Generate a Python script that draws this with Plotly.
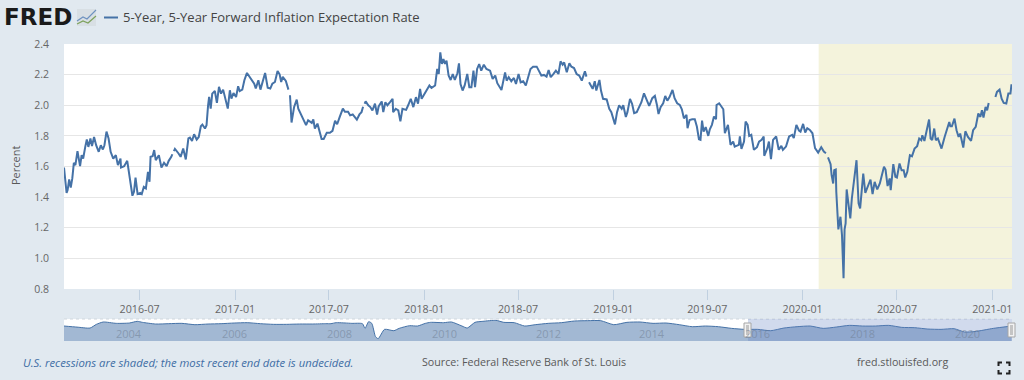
import pandas as pd
import plotly.graph_objects as go

START = pd.Timestamp("2016-02-06")
END = pd.Timestamp("2021-02-08")

days_since_start = [
    0,2,5,7,10,13,16,19,22,26,31,34,37,41,44,47,51,54,58,62,
    67,71,75,78,82,86,90,95,100,104,109,110,116,122,127,132,135,138,142,147,
    150,154,158,162,165,167,171,174,177,183,188,193,198,202,207,209,210,212,214,221,225,230,
    235,240,243,247,251,256,260,264,267,272,275,278,
    280,283,286,291,295,299,303,307,312,316,320,323,327,332,336,339,344,348,353,357,
    362,367,370,375,379,384,388,393,398,402,407,412,416,419,422,428,433,435,436,439,
    444,449,452,456,462,467,471,478,481,484,489,493,497,501,507,513,518,523,527,532,
    538,542,548,
    552,557,565,570,574,577,578,580,582,587,591,595,600,604,607,613,616,620,624,629,634,635,
    640,645,649,653,660,664,669,674,679,683,687,690,698,701,705,709,716,720,723,726,
    729,732,735,738,742,746,750,754,759,762,765,769,773,778,782,786,790,793,797,801,
    805,810,815,822,827,832,836,844,851,854,858,863,868,872,877,881,886,891,896,900,
    905,912,916,921,926,931,935,939,944,949,954,958,962,965,970,975,979,984,989,994,
    999,1005,1008,1010,1013,1020,1024,1027,1033,1036,1040,1047,1052,1056,1063,1067,1071,1076,1079,1084,
    1087,1092,1096,1100,1105,1110,
    1114,1119,1124,1129,1135,1140,1144,1147,1151,1156,1160,1164,1168,1174,1178,1183,1188,1192,1196,1201,
    1203,1207,1212,1217,1221,1225,1228,1231,1234,1238,1243,1246,1250,1254,1258,1259,1264,1268,1272,1275,
    1281,1286,1291,1294,1302,1304,1307,1312,1315,1319,1322,1326,1331,1337,1341,1346,1350,1351,1357,1360,
    1364,1368,1374,1379,1384,1387,1393,1399,1405,1408,1413,1418,1421,1426,1430,1434,1439,1444,1449,1455,
    1461,1466,1470,1472,
    1474,1479,1481,1484,1486,1489,1490,1494,1498,1501,1504,1506,1508,1510,1514,1517,1520,1525,1529,1533,
    1536,1542,1546,1553,1556,1560,1564,1569,1574,1582,1585,1589,1593,1595,1600,1604,1607,1612,1616,1620,
    1623,1627,1632,1636,1641,1646,1650,1654,1656,1660,1665,1669,1672,1675,1679,1682,1686,1690,1693,1699,
    1706,1708,1710,1713,1718,1722,1726,1729,1735,1739,1744,1750,1754,1759,1764,1768,1771,1774,1778,1781,
    1784,1787,1790,1793,1797,1800,1805,1809,1813,1818,1822,1826,1828,
]

rate_percent = [
    1.593,1.511,1.428,1.446,1.515,1.463,1.522,1.624,1.609,1.70,1.602,1.674,1.652,1.728,1.776,1.728,1.783,1.733,1.793,1.739,
    1.696,1.739,1.711,1.739,1.828,1.783,1.696,1.652,1.674,1.609,1.652,1.593,1.602,1.637,1.511,1.409,1.435,1.528,1.42,1.428,
    1.42,1.467,1.457,1.565,1.50,1.663,1.667,1.707,1.641,1.674,1.593,1.624,1.602,1.637,1.663,1.68,None,1.70,1.715,1.685,1.663,1.717,
    1.646,1.783,1.789,1.767,1.811,1.776,1.793,1.863,1.874,1.848,1.87,2.0,
    2.054,1.978,2.076,2.093,2.015,2.12,2.076,2.102,2.033,1.978,2.098,2.043,2.08,2.054,2.124,2.093,2.102,2.163,2.211,2.189,
    2.163,2.141,2.109,2.163,2.102,2.163,2.211,2.115,2.109,2.141,2.152,2.224,2.202,2.152,2.185,2.159,2.102,None,2.065,1.887,
    1.989,2.037,1.978,1.95,1.913,1.87,1.902,1.885,1.907,1.848,1.88,1.826,1.78,1.78,1.82,1.82,1.833,1.898,1.876,1.924,
    1.978,1.957,1.957,
    1.934,1.94,1.906,1.94,1.955,1.99,None,2.01,2.025,2.0,1.988,1.966,2.01,1.94,1.992,2.025,1.955,2.02,2.0,2.02,2.042,1.955,
    1.977,1.966,1.895,1.977,1.97,2.0,2.042,1.988,2.053,2.01,2.107,2.042,2.085,2.107,2.129,2.113,2.129,2.237,2.204,2.345,
    2.27,2.302,2.27,2.291,2.194,2.165,2.204,2.165,2.209,2.274,2.139,2.096,2.129,2.204,2.118,2.118,2.226,2.118,2.237,2.269,
    2.226,2.265,2.237,2.226,2.172,2.194,2.144,2.10,2.215,2.161,2.183,2.157,2.178,2.139,2.204,2.15,2.157,2.129,2.183,2.237,
    2.252,2.252,2.226,2.194,2.198,2.187,2.23,2.183,2.204,2.226,2.204,2.287,2.265,2.28,2.215,2.274,2.252,2.243,2.204,2.194,
    2.161,2.222,2.187,None,2.15,2.107,2.157,2.096,2.165,2.096,2.042,2.038,1.977,1.955,1.875,1.955,2.0,1.977,2.0,1.923,
    1.955,2.042,2.01,1.949,1.955,1.991,
    2.02,2.078,2.03,1.996,2.046,2.061,2.002,1.943,1.987,2.013,2.061,2.03,2.052,2.10,2.046,2.013,2.002,1.974,1.915,1.937,
    1.85,1.904,1.909,1.909,1.861,1.778,1.774,1.90,1.828,1.857,1.80,1.843,1.872,1.926,1.909,2.002,2.013,1.996,1.974,1.817,
    1.872,1.741,1.763,1.73,1.741,1.796,1.715,1.763,1.893,1.872,1.80,1.807,1.709,1.726,1.763,1.774,1.796,1.67,1.72,1.763,
    1.648,1.774,1.796,1.709,1.735,1.709,1.73,1.796,1.807,1.785,1.872,1.835,1.828,1.878,1.822,1.85,1.839,1.817,1.72,1.691,
    1.726,1.698,1.687,None,
    1.659,1.615,1.543,1.489,1.576,1.58,1.435,1.189,1.272,1.152,0.87,1.189,1.228,1.45,1.341,1.261,1.391,1.554,1.641,1.359,
    1.326,1.554,1.428,1.489,1.515,1.42,1.50,1.45,1.489,1.598,1.58,1.472,1.522,1.446,1.615,1.533,1.528,1.62,1.576,1.576,
    1.528,1.565,1.674,1.667,1.717,1.733,1.783,1.772,1.804,1.767,1.859,1.907,1.783,1.772,1.848,1.772,1.783,1.746,1.717,1.793,
    1.88,1.891,1.863,1.863,1.913,1.837,1.793,1.815,1.724,1.83,1.793,1.767,1.837,1.859,1.946,1.924,1.967,1.92,1.989,1.967,
    2.015,None,2.022,None,2.054,2.087,2.102,2.043,2.015,2.011,2.076,2.076,2.137,
]

nav_years = [
    2003.0,2003.25,2003.5,2003.62,2003.75,2004.0,2004.25,2004.4,2004.5,2004.75,
    2005.0,2005.25,2005.5,2005.75,2006.0,2006.25,2006.5,2006.75,2007.0,2007.25,
    2007.5,2007.75,2008.0,2008.1,2008.2,2008.5,2008.7,2008.75,2008.82,2008.88,
    2008.95,2009.0,2009.12,2009.3,2009.4,2009.6,2009.75,2009.9,2010.0,2010.25,
    2010.4,2010.6,2010.7,2010.85,2011.0,2011.25,2011.4,2011.6,2011.8,2012.0,
    2012.25,2012.5,2012.75,2013.0,2013.25,2013.5,2013.75,2014.0,2014.25,2014.5,
    2014.75,2015.0,2015.25,2015.5,2015.75,2016.0,2016.25,2016.5,2016.75,2017.0,
    2017.25,2017.5,2017.75,2018.0,2018.25,2018.5,2018.75,2019.0,2019.25,2019.5,
    2019.75,2020.0,2020.2,2020.4,2020.75,2021.1,
]
nav_percent = [
    2.36,2.23,2.12,2.56,2.84,2.68,2.72,2.92,2.8,2.6,
    2.64,2.68,2.52,2.6,2.64,2.72,2.76,2.64,2.56,2.56,
    2.6,2.6,2.64,2.64,2.76,2.68,2.64,2.08,2.88,2.68,
    1.09,0.85,1.96,1.8,2.08,2.4,2.36,2.68,2.8,2.76,
    2.84,2.36,2.12,2.8,2.92,3.04,2.8,2.76,2.36,2.52,
    2.68,2.76,2.96,3.0,3.0,2.52,2.8,2.84,2.68,2.72,
    2.52,2.28,2.36,2.28,2.08,1.96,1.96,1.8,2.12,2.28,
    2.36,2.08,2.24,2.44,2.36,2.36,2.44,2.2,2.16,2.0,
    1.96,2.04,1.65,1.7,2.08,2.36,
]

y_ticks = [0.8, 1.0, 1.2, 1.4, 1.6, 1.8, 2.0, 2.2, 2.4]
nav_labels = ["2004", "2006", "2008", "2010", "2012", "2014", "2016", "2018", "2020"]
nav_label_px = [129, 234, 339, 444, 548, 652, 757, 862, 967]

TITLE = "5-Year, 5-Year Forward Inflation Expectation Rate"
RECESSION_START = "2020-02-01"
SELECT_START_PX, SELECT_END_PX = 748, 1012

BG = "#e1e9f0"
LINE = "#4572a7"
FONT = "Open Sans"
L, R, T, B = 64, 1012, 44, 341
MAIN_B, NAV_T = 289, 319


def px(x):
    return (x - L) / (R - L)


def py(y):
    return (B - y) / (B - T)


dates = [START + pd.Timedelta(days=d) for d in days_since_start]


def year_to_date(y):
    yr = int(y)
    return pd.Timestamp(year=yr, month=1, day=1) + pd.Timedelta(days=round((y - yr) * 365))


fig = go.Figure()
fig.add_trace(go.Scatter(x=dates, y=rate_percent, mode="lines", connectgaps=False,
                         line=dict(color=LINE, width=2, shape="linear"),
                         hoverinfo="x+y", showlegend=False, xaxis="x", yaxis="y"))
fig.add_trace(go.Scatter(x=[year_to_date(y) for y in nav_years], y=nav_percent, mode="lines",
                         line=dict(color=LINE, width=1, shape="spline", smoothing=0.6),
                         fill="tozeroy", fillcolor="rgba(69,114,167,0.5)",
                         hoverinfo="skip", showlegend=False, xaxis="x2", yaxis="y2"))

shapes = [
    dict(type="rect", xref="x", yref="y domain", x0=RECESSION_START, x1=END, y0=0, y1=1,
         fillcolor="#f4f3dc", line_width=0, layer="below"),
    dict(type="line", xref="paper", yref="paper", x0=0, x1=1, y0=py(NAV_T), y1=py(NAV_T),
         line=dict(color="#cfd6dd", width=1, dash="dot")),
    dict(type="rect", xref="paper", yref="paper", x0=px(SELECT_START_PX), x1=px(SELECT_END_PX),
         y0=0, y1=py(NAV_T), fillcolor="rgba(102,133,194,0.3)", line_width=0),
    dict(type="line", xref="paper", yref="paper", x0=px(104), x1=px(118), y0=py(17.5), y1=py(17.5),
         line=dict(color=LINE, width=2)),
    dict(type="rect", xref="paper", yref="paper", x0=px(77), x1=px(96), y0=py(26), y1=py(9),
         fillcolor="#d8dfe4", line_width=0),
    dict(type="path", xref="paper", yref="paper",
         path=f"M {px(77)} {py(21)} L {px(83)} {py(17)} L {px(87)} {py(19)} L {px(96)} {py(10)}",
         line=dict(color="#6f92c0", width=1.2)),
    dict(type="path", xref="paper", yref="paper",
         path=f"M {px(77)} {py(24)} L {px(83)} {py(21)} L {px(88)} {py(23)} L {px(96)} {py(16)}",
         line=dict(color="#7da25c", width=1.2)),
]
for hx in (SELECT_START_PX - 0.5, SELECT_END_PX - 0.5):
    shapes.append(dict(type="rect", xref="paper", yref="paper", x0=px(hx - 3.5), x1=px(hx + 3.5),
                       y0=py(337), y1=py(323), fillcolor="#f2f2f2",
                       line=dict(color="#a6a6a6", width=1)))
    shapes.append(dict(type="rect", xref="paper", yref="paper", x0=px(hx - 1.5), x1=px(hx + 1.5),
                       y0=py(335), y1=py(325), fillcolor="#c4c4c4", line_width=0))
for cx, cy, dx, dy in ((998.5, 362.5, 1, 1), (1009.5, 362.5, -1, 1), (998.5, 373.5, 1, -1), (1009.5, 373.5, -1, -1)):
    shapes.append(dict(type="path", xref="paper", yref="paper",
                       path=f"M {px(cx + 3.5 * dx)} {py(cy)} L {px(cx)} {py(cy)} L {px(cx)} {py(cy + 3.5 * dy)}",
                       line=dict(color="#222222", width=2)))


def note(text, x, y, size=10.7, color="#595959", xanchor="left", **kw):
    return dict(text=text, xref="paper", yref="paper", x=px(x), y=py(y), showarrow=False,
                xanchor=xanchor, yanchor="middle", align="left",
                font=dict(family=kw.pop("family", FONT), size=size, color=color), **kw)


annotations = [
    note("<b>FRED</b>", 2, 17.5, size=23, color="#1a1a1a", family="DejaVu Sans"),
    note(TITLE, 121, 17.5, size=13, color="#444444"),
    note("<i>U.S. recessions are shaded; the most recent end date is undecided.</i>", 21, 362, size=11.3, color="#3f6ea5"),
    note("Source: Federal Reserve Bank of St. Louis", 420, 362),
    note("fred.stlouisfed.org", 855, 362),
    note("Percent", 15, 166, size=11, xanchor="center", textangle=-90),
]
for lab, lx in zip(nav_labels, nav_label_px):
    annotations.append(note(lab, lx, 333.5, size=11, color="rgba(110,125,145,0.55)", xanchor="center"))

fig.update_layout(
    width=1024, height=380, autosize=False,
    margin=dict(l=L, r=1024 - R, t=T, b=380 - B, pad=0),
    paper_bgcolor=BG, plot_bgcolor="white",
    font=dict(family=FONT, size=10.7, color="#666666"),
    showlegend=False, shapes=shapes, annotations=annotations,
    xaxis=dict(domain=[0, 1], anchor="y", type="date",
               range=[START, END], tickformat="%Y-%m", dtick="M6", tick0="2016-01-01",
               ticks="outside", ticklen=10, tickcolor="#c0d0e0", tickwidth=1,
               showgrid=False, zeroline=False, showline=False,
               tickfont=dict(size=10.7, color="#666666")),
    yaxis=dict(domain=[py(MAIN_B), 1], anchor="x", range=[0.8, 2.4], tickvals=y_ticks,
               tickformat=".1f", showgrid=True, gridcolor="#e6e6e6", gridwidth=1,
               zeroline=False, showline=False, ticks="", ticklabelstandoff=14,
               tickfont=dict(size=10.5, color="#666666")),
    xaxis2=dict(domain=[0, 1], anchor="y2", type="date",
                range=[pd.Timestamp("2003-01-01"), END], showticklabels=False, ticks="",
                showgrid=False, zeroline=False, showline=False),
    yaxis2=dict(domain=[0, py(NAV_T)], anchor="x2", range=[0.57, 3.2], showticklabels=False,
                ticks="", showgrid=False, zeroline=False, showline=False),
)

fig.write_html("out.html", config=dict(displayModeBar=False),
               post_script="document.body.style.margin='0';")
